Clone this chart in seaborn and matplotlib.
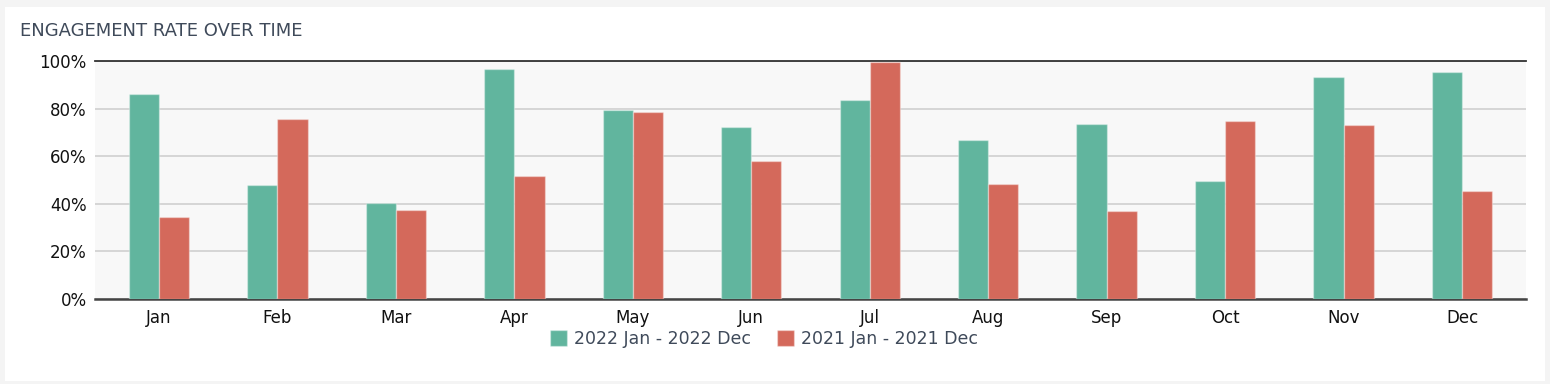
import numpy as np
import pandas as pd
import seaborn as sns
import matplotlib.pyplot as plt
from matplotlib.patches import Rectangle
from matplotlib.ticker import PercentFormatter

# Data
months = ['Jan', 'Feb', 'Mar', 'Apr', 'May', 'Jun', 'Jul', 'Aug', 'Sep', 'Oct', 'Nov', 'Dec']
series_names = ['2022 Jan - 2022 Dec', '2021 Jan - 2021 Dec']
rate_2022 = [86.1, 48.0, 40.2, 96.8, 79.3, 72.4, 83.6, 66.8, 73.5, 49.6, 93.1, 95.5]
rate_2021 = [34.5, 75.6, 37.6, 51.6, 78.6, 58.0, 99.4, 48.3, 37.0, 74.9, 73.0, 45.3]

df = pd.DataFrame({
    'month': months * 2,
    'rate': rate_2022 + rate_2021,
    'series': [series_names[0]] * 12 + [series_names[1]] * 12,
})

# Drawing
sns.set_style('white')
plt.rcParams['font.family'] = ['DejaVu Sans']
text_dark = '#3f4a5a'
colors = ['#61b59e', '#d4695b']

fig = plt.figure(figsize=(15.5, 3.84), dpi=100, facecolor='#f4f4f4')
fig.patches.append(Rectangle((5 / 1550, 1 - 381 / 384), 1540 / 1550, 374 / 384,
                             transform=fig.transFigure, facecolor='white',
                             edgecolor='none', zorder=-10))
ax = fig.add_axes([95 / 1550, 1 - 299 / 384, 1431 / 1550, 238 / 384])
ax.set_facecolor('#f8f8f8')

sns.barplot(df, x='month', y='rate', hue='series', palette=colors, width=0.51,
            saturation=1, edgecolor=(1, 1, 1, 0.35), linewidth=1, ax=ax, zorder=3)

ax.set_ylim(0, 100)
ax.set_xlim(-0.54, 11.54)
ax.set_yticks([0, 20, 40, 60, 80, 100])
ax.yaxis.set_major_formatter(PercentFormatter(decimals=0))
ax.grid(axis='y', color='#d3d3d3', linewidth=1.3, zorder=0)
ax.set_axisbelow(True)
for s in ['left', 'right']:
    ax.spines[s].set_visible(False)
ax.spines['top'].set_color('#333333')
ax.spines['top'].set_linewidth(1.3)
ax.spines['bottom'].set_color('#444444')
ax.spines['bottom'].set_linewidth(1.8)
ax.tick_params(axis='x', length=0, labelsize=12, colors='#111111', pad=7)
ax.tick_params(axis='y', length=0, labelsize=12, colors='#111111', pad=6)
ax.set_xlabel(None)
ax.set_ylabel(None)

handles, labels = ax.get_legend_handles_labels()
ax.legend(handles, labels, loc='center', bbox_to_anchor=(764 / 1550, 1 - 339 / 384),
          bbox_transform=fig.transFigure, ncol=2,
          frameon=False, fontsize=12.5, handlelength=1.0, handleheight=1.0,
          handletextpad=0.4, columnspacing=1.5, labelcolor=text_dark)

fig.text(20 / 1550, 1 - 31 / 384, 'ENGAGEMENT RATE OVER TIME', fontsize=13,
         color=text_dark, va='center', ha='left')

plt.savefig('out.png', dpi=100, facecolor=fig.get_facecolor())
